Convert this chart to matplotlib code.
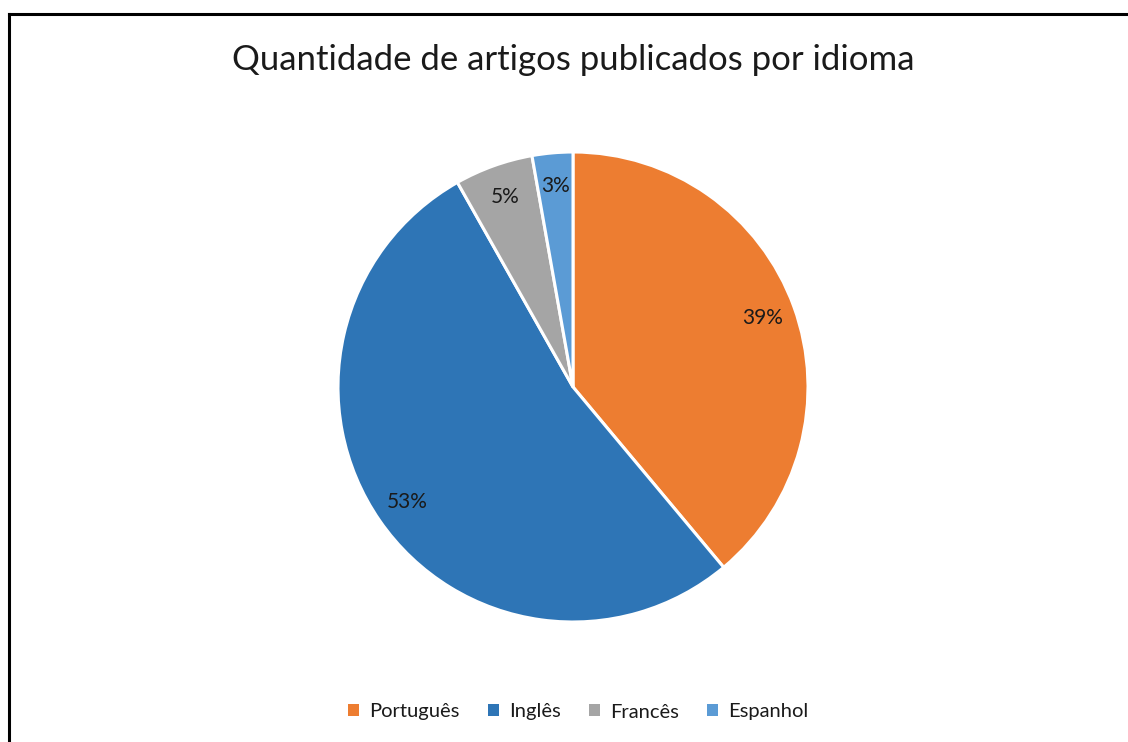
import matplotlib
matplotlib.use("Agg")
import matplotlib.pyplot as plt
from matplotlib.lines import Line2D

categories = ["Português", "Inglês", "Francês", "Espanhol"]
values = [39.0, 53.0, 5.4, 2.8]
colors = ["#ED7D31", "#2E75B6", "#A5A5A5", "#5B9BD5"]
title = "Quantidade de artigos publicados por idioma"

plt.rcParams['font.family'] = ['Lato', 'DejaVu Sans']

W, H = 1128, 742
fig = plt.figure(figsize=(W / 100, H / 100), dpi=100)
fig.patch.set_facecolor("white")

cx, cy, r = 573, 387, 235
ax = fig.add_axes([(cx - r) / W, (H - cy - r) / H, 2 * r / W, 2 * r / H])

wedges, texts, autotexts = ax.pie(
    values, colors=colors, startangle=90, counterclock=False,
    radius=1.0, pctdistance=0.86,
    autopct=lambda p: f"{round(p):d}%",
    wedgeprops=dict(edgecolor="white", linewidth=2.2),
    textprops=dict(fontsize=15, color="#1a1a1a"),
)
ax.set_xlim(-1, 1)
ax.set_ylim(-1, 1)
ax.set_aspect("equal")
ax.axis("off")

fig.text(cx / W, 1 - 60 / H, title, ha="center", va="center",
         fontsize=25, color="#1a1a1a")

handles = [plt.Rectangle((0, 0), 1, 1, facecolor=c, edgecolor="none") for c in colors]
leg = fig.legend(handles, categories, loc="center", bbox_to_anchor=(578 / W, 1 - 712 / H),
                 ncol=4, frameon=False, fontsize=14.5, handlelength=0.55, handleheight=0.55,
                 handletextpad=0.5, columnspacing=1.4)
for t in leg.get_texts():
    t.set_color("#1a1a1a")

# outer frame (partially clipped by image edges)
fig.add_artist(Line2D([9 / W, 9 / W], [0, 1 - 14 / H], transform=fig.transFigure,
                      color="black", linewidth=2.2, solid_capstyle="projecting"))
fig.add_artist(Line2D([9 / W, 1], [1 - 14 / H, 1 - 14 / H], transform=fig.transFigure,
                      color="black", linewidth=2.2, solid_capstyle="projecting"))

fig.savefig("out.png", dpi=100, facecolor="white")
